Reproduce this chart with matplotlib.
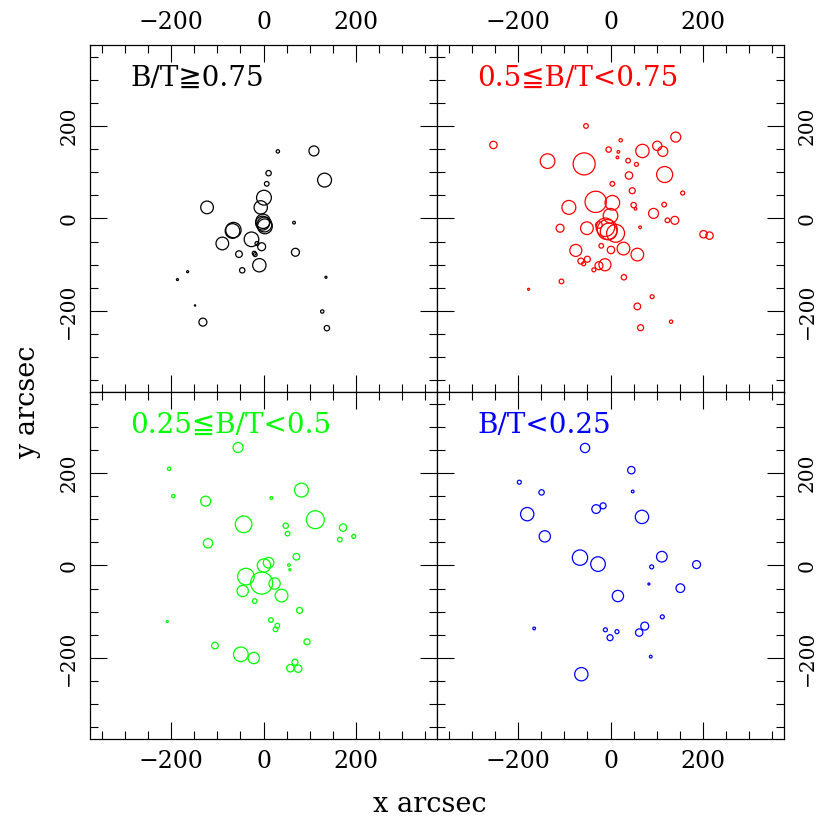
import matplotlib
matplotlib.use("Agg")
import matplotlib.pyplot as plt
import numpy as np

# ---- data: positions (arcsec) and circle radius (arcsec) ----
bt1_x = [31, 109, 132, 11, 7, 1, -6, -122, -1, 2, 3, -2, 66, -65, -67, -26, -89, -14, -4, -53, -20, -18, 69, -9, -46, -164, -186, 135, -148, 127, -131, 137]
bt1_y = [145, 146, 83, 98, 75, 45, 24, 24, -6, -13, -17, -10, -9, -25, -27, -45, -54, -54, -61, -77, -75, -78, -73, -101, -112, -115, -132, -127, -188, -201, -224, -237]
bt1_r = [3.6, 10.8, 15, 5.8, 5, 16, 14.4, 13.7, 15.5, 16, 16, 15, 2.9, 16.6, 15.8, 15.8, 13.7, 4.3, 8.6, 7.2, 4.3, 4.3, 8.6, 14.4, 5.8, 2.2, 2.2, 2.2, 1.4, 3.6, 8.6, 5.8]

bt2_x = [-53, -253, 22, -4, 17, 15, 69, 101, 113, 141, -136, -57, 38, 56, 40, 117, 4, 47, 156, -32, 4, -90, 50, 54, 116, 93, 0, 123, 139, -109, -51, -25, -11, -7, -4, 11, 64, 201, 214, 28, 1, -20, 58, -75, -50, -64, -58, -36, -25, -12, 29, -106, -177, 90, 58, 131, 65]
bt2_y = [200, 159, 169, 149, 144, 132, 146, 157, 145, 176, 124, 118, 125, 117, 93, 95, 75, 60, 55, 36, 34, 24, 29, 21, 30, 11, 6, -4, -4, -21, -21, -14, -19, -24, -28, -32, -19, -34, -37, -65, -68, -59, -78, -69, -88, -92, -98, -111, -102, -100, -127, -136, -153, -169, -190, -223, -236]
bt2_r = [5, 8, 3.6, 5.8, 2.9, 2.9, 14.4, 10, 10.8, 10.8, 15.8, 23.8, 5, 4.3, 8, 17.3, 5, 6.5, 4.3, 23, 15.8, 15, 5.8, 2.9, 5, 10.8, 15.8, 5, 8.6, 8.6, 13.7, 7.2, 20, 21.6, 18, 19.4, 2.9, 8, 8, 13.7, 8, 5, 13.7, 13, 6.5, 6.5, 4.3, 4.3, 8.6, 13, 5.8, 5, 2.2, 4.3, 7.2, 3.6, 6.5]

bt3_x = [-55, -204, -195, -125, 17, 82, -43, 112, 48, 52, 172, 165, 195, -120, 71, 11, 1, 55, 57, -38, -4, 24, -45, 39, -19, 78, 16, -208, 30, 26, 94, -105, -49, -21, 68, 58, 75]
bt3_y = [255, 209, 150, 139, 146, 163, 89, 99, 86, 69, 82, 56, 63, 48, 19, 6, 0, 1, -9, -24, -38, -39, -55, -65, -77, -97, -118, -121, -130, -138, -165, -173, -192, -200, -209, -222, -223]
bt3_r = [10.8, 3.6, 3.6, 10.8, 2.9, 15, 18, 19.4, 5.8, 5, 8, 5, 4.3, 10, 7.2, 11.5, 14.4, 2.9, 2.2, 18, 23.8, 12.2, 12.2, 13.7, 5, 6.5, 5, 2.2, 5, 5, 6.5, 7.2, 15.8, 12.2, 6.5, 8, 8]

bt4_x = [-55, 45, -197, -149, 48, -31, -16, -180, 68, -142, -66, -27, 111, 89, 186, 83, 151, 16, 112, -165, -11, 14, -1, 62, 74, 87, -63]
bt4_y = [254, 206, 180, 158, 160, 122, 129, 111, 105, 63, 17, 3, 19, -3, 2, -40, -49, -66, -111, -136, -139, -143, -156, -145, -131, -197, -235]
bt4_r = [10, 8, 4.3, 5.8, 2.9, 9.4, 6.5, 14.4, 14.4, 12.2, 16.6, 15.8, 11.5, 4.3, 8.6, 2.2, 9.4, 12.2, 4.3, 2.9, 4.3, 4.3, 6.5, 8, 8.6, 2.9, 14.4]

labels = ["B/T\u22670.75", "0.5\u2266B/T<0.75", "0.25\u2266B/T<0.5", "B/T<0.25"]
colors = ["black", "#ff0000", "#00ff00", "#0000ff"]
ticks_major = [-200, 0, 200]
lim = 375

plt.rcParams['font.family'] = ['DejaVu Serif', 'DejaVu Sans']
plt.rcParams['mathtext.default'] = 'regular'

fig = plt.figure(figsize=(8.3, 8.3), dpi=100)
W, H = 830.0, 830.0
x0, y0, pw = 90.0, 45.0, 347.0

data = [(bt1_x, bt1_y, bt1_r), (bt2_x, bt2_y, bt2_r), (bt3_x, bt3_y, bt3_r), (bt4_x, bt4_y, bt4_r)]

for i in range(4):
    row, col = divmod(i, 2)
    left = (x0 + col * pw) / W
    bottom = 1 - (y0 + (row + 1) * pw) / H
    ax = fig.add_axes([left, bottom, pw / W, pw / H])
    ax.set_xlim(-lim, lim)
    ax.set_ylim(-lim, lim)
    xs, ys, rs = data[i]
    pt_per_unit = (pw / (2 * lim)) * 72.0 / fig.dpi
    s = (2 * np.array(rs) * pt_per_unit) ** 2
    ax.scatter(xs, ys, s=s, facecolors='none', edgecolors=colors[i], linewidths=0.9)
    ax.text(0.117, 0.883, labels[i], transform=ax.transAxes, color=colors[i],
            fontsize=20, ha='left', va='baseline')
    ax.set_xticks(ticks_major)
    ax.set_yticks(ticks_major)
    ax.set_xticks(np.arange(-350, 351, 50), minor=True)
    ax.set_yticks(np.arange(-350, 351, 50), minor=True)
    ax.tick_params(which='both', direction='in', top=True, bottom=True, left=True, right=True,
                   width=0.8)
    ax.tick_params(which='major', length=12)
    ax.tick_params(which='minor', length=6)
    ax.tick_params(axis='x', pad=8, labelsize=17, labeltop=(row == 0), labelbottom=(row == 1))
    ax.tick_params(axis='y', pad=(8.5 if col == 0 else 10), labelsize=14.5,
                   labelleft=(col == 0), labelright=(col == 1), labelrotation=90)
    for lab in ax.get_yticklabels():
        lab.set_va('center')
    for sp in ax.spines.values():
        sp.set_linewidth(0.9)

fig.text(430 / W, 1 - 812 / H, "x arcsec", fontsize=19.5, ha='center', va='baseline')
fig.text(35 / W, 1 - 402 / H, "y arcsec", fontsize=19.5, ha='center', va='baseline',
         rotation=90, rotation_mode='anchor')

fig.savefig("out.png", dpi=100)
